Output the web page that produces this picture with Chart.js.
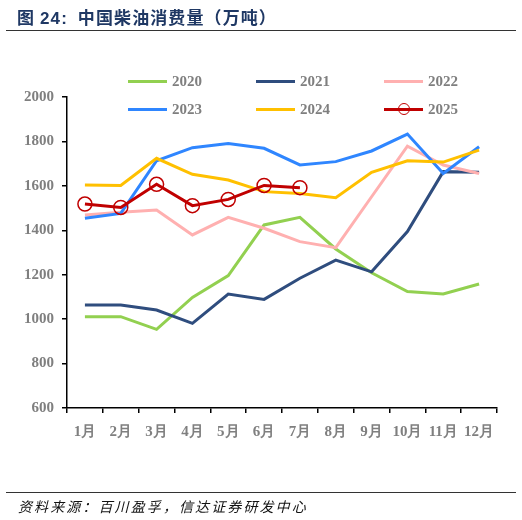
<!DOCTYPE html>
<html>
<head>
<meta charset="utf-8">
<script src="https://cdn.jsdelivr.net/npm/chart.js@4.4.1/dist/chart.umd.min.js"></script>
<style>
  body { margin: 0; background: #fff; }
  #page { position: relative; width: 522px; height: 520px; overflow: hidden; }
  #myChart { position: absolute; left: 0; top: 0; }
  .title { position: absolute; left: 17px; top: 4px; font: bold 17px "Noto Sans CJK SC", sans-serif; color: #1f3864; letter-spacing: 1.1px; white-space: nowrap; }
  .title b { font-family: "Liberation Sans", Arial, sans-serif; }
  .rule { position: absolute; left: 6px; width: 510px; height: 1.3px; background: #333; }
  .source { position: absolute; left: 18px; top: 496px; font: italic 14px "Noto Sans CJK SC", sans-serif; color: #111; letter-spacing: 2.1px; white-space: nowrap; }
  .legend-item { position: absolute; height: 20px; display: flex; align-items: center; }
  .legend-line { position: relative; width: 39px; height: 3px; }
  .legend-dot { position: absolute; left: 14px; top: -4.5px; width: 12px; height: 12px; border: 1.5px solid #c00000; border-radius: 50%; box-sizing: border-box; background: transparent; }
  .legend-text { margin-left: 5px; font: bold 15px "Liberation Serif", "Times New Roman", serif; color: #7f7f7f; }
</style>
</head>
<body>
<div id="page">
  <canvas id="myChart" width="522" height="520"></canvas>
  <div class="title">图 <b>24:</b>&nbsp; 中国柴油消费量（万吨）</div>
  <div class="rule" style="top:30px"></div>
  <div id="legend"></div>
  <div class="rule" style="top:492px"></div>
  <div class="source">资料来源：百川盈孚，信达证券研发中心</div>
</div>
<script>
// --- Data ---
const months = ["1月", "2月", "3月", "4月", "5月", "6月", "7月", "8月", "9月", "10月", "11月", "12月"];
const years = ["2020", "2021", "2022", "2023", "2024", "2025"];

const data2020 = [1011, 1011, 954, 1098, 1196, 1424, 1458, 1316, 1209, 1124, 1113, 1158];
const data2021 = [1064, 1064, 1041, 981, 1113, 1089, 1184, 1266, 1213, 1394, 1664, 1661];
const data2022 = [1469, 1481, 1491, 1379, 1458, 1409, 1349, 1322, 1551, 1779, 1694, 1656];
const data2023 = [1454, 1476, 1713, 1772, 1791, 1769, 1694, 1709, 1757, 1833, 1656, 1776];
const data2024 = [1604, 1602, 1724, 1652, 1626, 1574, 1566, 1547, 1661, 1713, 1707, 1761];
const data2025 = [1518, 1503, 1607, 1511, 1539, 1602, 1592];

const yTicks = [600, 800, 1000, 1200, 1400, 1600, 1800, 2000];

const colors = ["#92d050", "#2f4d7e", "#ffb0b0", "#2f86ff", "#ffc000", "#c00000"];
const seriesData = [data2020, data2021, data2022, data2023, data2024, data2025];

// --- Legend (3 columns, 2 rows) ---
const legendEl = document.getElementById("legend");
const legendX = [128, 256, 384];
const legendY = [71, 99];
years.forEach((y, i) => {
  const item = document.createElement("div");
  item.className = "legend-item";
  item.style.left = legendX[i % 3] + "px";
  item.style.top = legendY[Math.floor(i / 3)] + "px";
  const line = document.createElement("div");
  line.className = "legend-line";
  line.style.background = colors[i];
  if (y === "2025") {
    const dot = document.createElement("div");
    dot.className = "legend-dot";
    line.appendChild(dot);
  }
  const txt = document.createElement("span");
  txt.className = "legend-text";
  txt.textContent = y;
  item.appendChild(line);
  item.appendChild(txt);
  legendEl.appendChild(item);
});

// --- Chart ---
const serif = '"Liberation Serif", "Times New Roman", serif';
const ctx = document.getElementById("myChart");

const datasets = years.map((y, i) => ({
  label: y,
  data: seriesData[i],
  borderColor: colors[i],
  backgroundColor: "transparent",
  borderWidth: 3,
  tension: 0,
  order: 6 - i,
  pointRadius: y === "2025" ? 7 : 0,
  pointBorderWidth: 1.5,
  pointBorderColor: colors[i],
  pointBackgroundColor: "transparent"
}));

new Chart(ctx, {
  type: "line",
  data: { labels: months, datasets: datasets },
  options: {
    responsive: false,
    animation: false,
    layout: { padding: { top: 97, right: 25, left: 0, bottom: 72 } },
    plugins: { legend: { display: false }, tooltip: { enabled: false } },
    scales: {
      x: {
        offset: true,
        grid: { offset: true, drawOnChartArea: false, drawTicks: true, tickLength: 5, color: "#000", lineWidth: 1.5 },
        border: { color: "#000", width: 1.5 },
        ticks: { color: "#7f7f7f", font: { family: serif, size: 15, weight: "bold" }, padding: 10, maxRotation: 0, autoSkip: false },
        afterFit: s => { s.height = 40; }
      },
      y: {
        min: yTicks[0],
        max: yTicks[yTicks.length - 1],
        afterBuildTicks: s => { s.ticks = yTicks.map(v => ({ value: v })); },
        grid: { drawOnChartArea: false, drawTicks: true, tickLength: 5, color: "#000", lineWidth: 1.5 },
        border: { color: "#000", width: 1.5 },
        ticks: { color: "#7f7f7f", font: { family: serif, size: 15, weight: "bold" }, padding: 8, callback: v => String(v) },
        afterFit: s => { s.width = 67; }
      }
    }
  }
});
</script>
</body>
</html>
